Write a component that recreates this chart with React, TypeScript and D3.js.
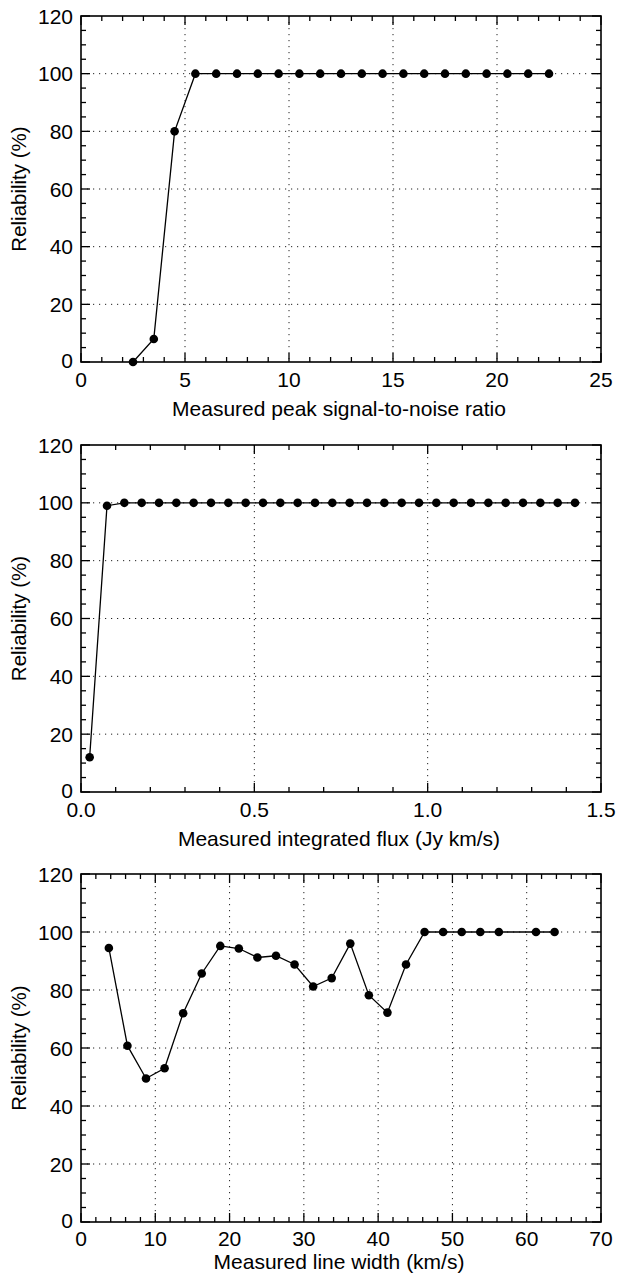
import React from "react";
import * as d3 from "d3";

// Panel 1: measured peak S/N
const snrX = [2.5, 3.5, 4.5, 5.5, 6.5, 7.5, 8.5, 9.5, 10.5, 11.5, 12.5, 13.5, 14.5, 15.5, 16.5, 17.5, 18.5, 19.5, 20.5, 21.5, 22.5];
const snrY = [0, 8, 80, 100, 100, 100, 100, 100, 100, 100, 100, 100, 100, 100, 100, 100, 100, 100, 100, 100, 100];
const snrTicks = [0, 5, 10, 15, 20, 25];

// Panel 2: measured integrated flux
const fluxX = [0.025, 0.075, 0.125, 0.175, 0.225, 0.275, 0.325, 0.375, 0.425, 0.475, 0.525, 0.575, 0.625, 0.675, 0.725, 0.775, 0.825, 0.875, 0.925, 0.975, 1.025, 1.075, 1.125, 1.175, 1.225, 1.275, 1.325, 1.375, 1.425];
const fluxY = [12, 99, 100, 100, 100, 100, 100, 100, 100, 100, 100, 100, 100, 100, 100, 100, 100, 100, 100, 100, 100, 100, 100, 100, 100, 100, 100, 100, 100];
const fluxTicks = [0, 0.5, 1.0, 1.5];

// Panel 3: measured line width
const widthX = [3.75, 6.25, 8.75, 11.25, 13.75, 16.25, 18.75, 21.25, 23.75, 26.25, 28.75, 31.25, 33.75, 36.25, 38.75, 41.25, 43.75, 46.25, 48.75, 51.25, 53.75, 56.25, 61.25, 63.75];
const widthY = [94.5, 60.8, 49.5, 53.0, 72.0, 85.7, 95.2, 94.3, 91.2, 91.8, 88.8, 81.2, 84.1, 96.0, 78.2, 72.2, 88.8, 100, 100, 100, 100, 100, 100, 100];
const widthTicks = [0, 10, 20, 30, 40, 50, 60, 70];

const yTicks = [0, 20, 40, 60, 80, 100, 120];
const yLabel = "Reliability (%)";

const FONT = "'Liberation Sans', Arial, Helvetica, sans-serif";

type PanelProps = {
  xs: number[];
  ys: number[];
  xTicks: number[];
  xMinorStep: number;
  xFormat: (v: number) => string;
  xLabel: string;
  top: number;
  bottom: number;
  titleOffset: number;
  tickOffset: number;
};

function Panel(p: PanelProps) {
  const left = 81;
  const right = 601;
  const x = d3.scaleLinear().domain([p.xTicks[0], p.xTicks[p.xTicks.length - 1]]).range([left, right]);
  const y = d3.scaleLinear().domain([0, 120]).range([p.bottom, p.top]);
  const [x0, x1] = x.domain();
  const xMinor = d3.range(x0, x1 + p.xMinorStep / 2, p.xMinorStep);
  const yMinor = d3.range(0, 120 + 2.5, 5);
  const isMajorX = (v: number) => p.xTicks.some((t) => Math.abs(t - v) < 1e-6);
  const isMajorY = (v: number) => v % 20 === 0;
  const pts = p.xs.map((v, i) => [v, p.ys[i]] as [number, number]);
  const line = d3.line<[number, number]>().x((d) => x(d[0])).y((d) => y(d[1]));
  const MAJ = 9;
  const MIN = 5;
  return (
    <g>
      {/* grid */}
      {p.xTicks.slice(1, -1).map((t) => (
        <line key={"gx" + t} x1={x(t)} x2={x(t)} y1={p.top} y2={p.bottom} stroke="#222" strokeWidth={1} strokeDasharray="1.2,4.8" />
      ))}
      {yTicks.slice(1, -1).map((t) => (
        <line key={"gy" + t} x1={left} x2={right} y1={y(t)} y2={y(t)} stroke="#222" strokeWidth={1} strokeDasharray="1.2,4.8" />
      ))}
      {/* x ticks bottom & top */}
      {xMinor.map((v, i) => {
        const L = isMajorX(v) ? MAJ : MIN;
        return (
          <g key={"xt" + i}>
            <line x1={x(v)} x2={x(v)} y1={p.bottom} y2={p.bottom - L} stroke="#000" strokeWidth={1.3} />
            <line x1={x(v)} x2={x(v)} y1={p.top} y2={p.top + L} stroke="#000" strokeWidth={1.3} />
          </g>
        );
      })}
      {yMinor.map((v, i) => {
        const L = isMajorY(v) ? MAJ : MIN;
        return (
          <g key={"yt" + i}>
            <line x1={left} x2={left + L} y1={y(v)} y2={y(v)} stroke="#000" strokeWidth={1.3} />
            <line x1={right} x2={right - L} y1={y(v)} y2={y(v)} stroke="#000" strokeWidth={1.3} />
          </g>
        );
      })}
      <rect x={left} y={p.top} width={right - left} height={p.bottom - p.top} fill="none" stroke="#000" strokeWidth={1.6} />
      {/* data */}
      <path d={line(pts) || ""} fill="none" stroke="#000" strokeWidth={1.3} />
      {pts.map((d, i) => (
        <circle key={"c" + i} cx={x(d[0])} cy={y(d[1])} r={4.3} fill="#000" />
      ))}
      {/* tick labels */}
      {p.xTicks.map((t) => (
        <text key={"xl" + t} x={x(t)} y={p.bottom + p.tickOffset} textAnchor="middle" fontSize={21} fontFamily={FONT} fill="#000">
          {p.xFormat(t)}
        </text>
      ))}
      {yTicks.map((t) => (
        <text key={"yl" + t} x={73} y={y(t)} dy={t === 0 ? "0.3em" : "0.36em"} textAnchor="end" fontSize={21} fontFamily={FONT} fill="#000">
          {t}
        </text>
      ))}
      <text x={(left + right) / 2 - 2} y={p.bottom + p.titleOffset} textAnchor="middle" fontSize={21} fontFamily={FONT} fill="#000">
        {p.xLabel}
      </text>
      <text transform={`translate(26,${(p.top + p.bottom) / 2}) rotate(-90)`} textAnchor="middle" fontSize={20.5} fontFamily={FONT} fill="#000">
        {yLabel}
      </text>
    </g>
  );
}

export default function App() {
  return (
    <svg width={617} height={1278} style={{ position: "absolute", left: 0, top: 0, background: "#fff" }}>
      <rect x={0} y={0} width={617} height={1278} fill="#fff" />
      <Panel xs={snrX} ys={snrY} xTicks={snrTicks} xMinorStep={1} xFormat={(v) => d3.format("d")(v)}
        xLabel="Measured peak signal-to-noise ratio" top={16} bottom={362} titleOffset={54} tickOffset={25} />
      <Panel xs={fluxX} ys={fluxY} xTicks={fluxTicks} xMinorStep={0.1} xFormat={(v) => d3.format(".1f")(v)}
        xLabel="Measured integrated flux (Jy km/s)" top={445} bottom={792} titleOffset={54} tickOffset={25} />
      <Panel xs={widthX} ys={widthY} xTicks={widthTicks} xMinorStep={2} xFormat={(v) => d3.format("d")(v)}
        xLabel="Measured line width (km/s)" top={874} bottom={1222} titleOffset={47} tickOffset={24} />
    </svg>
  );
}
